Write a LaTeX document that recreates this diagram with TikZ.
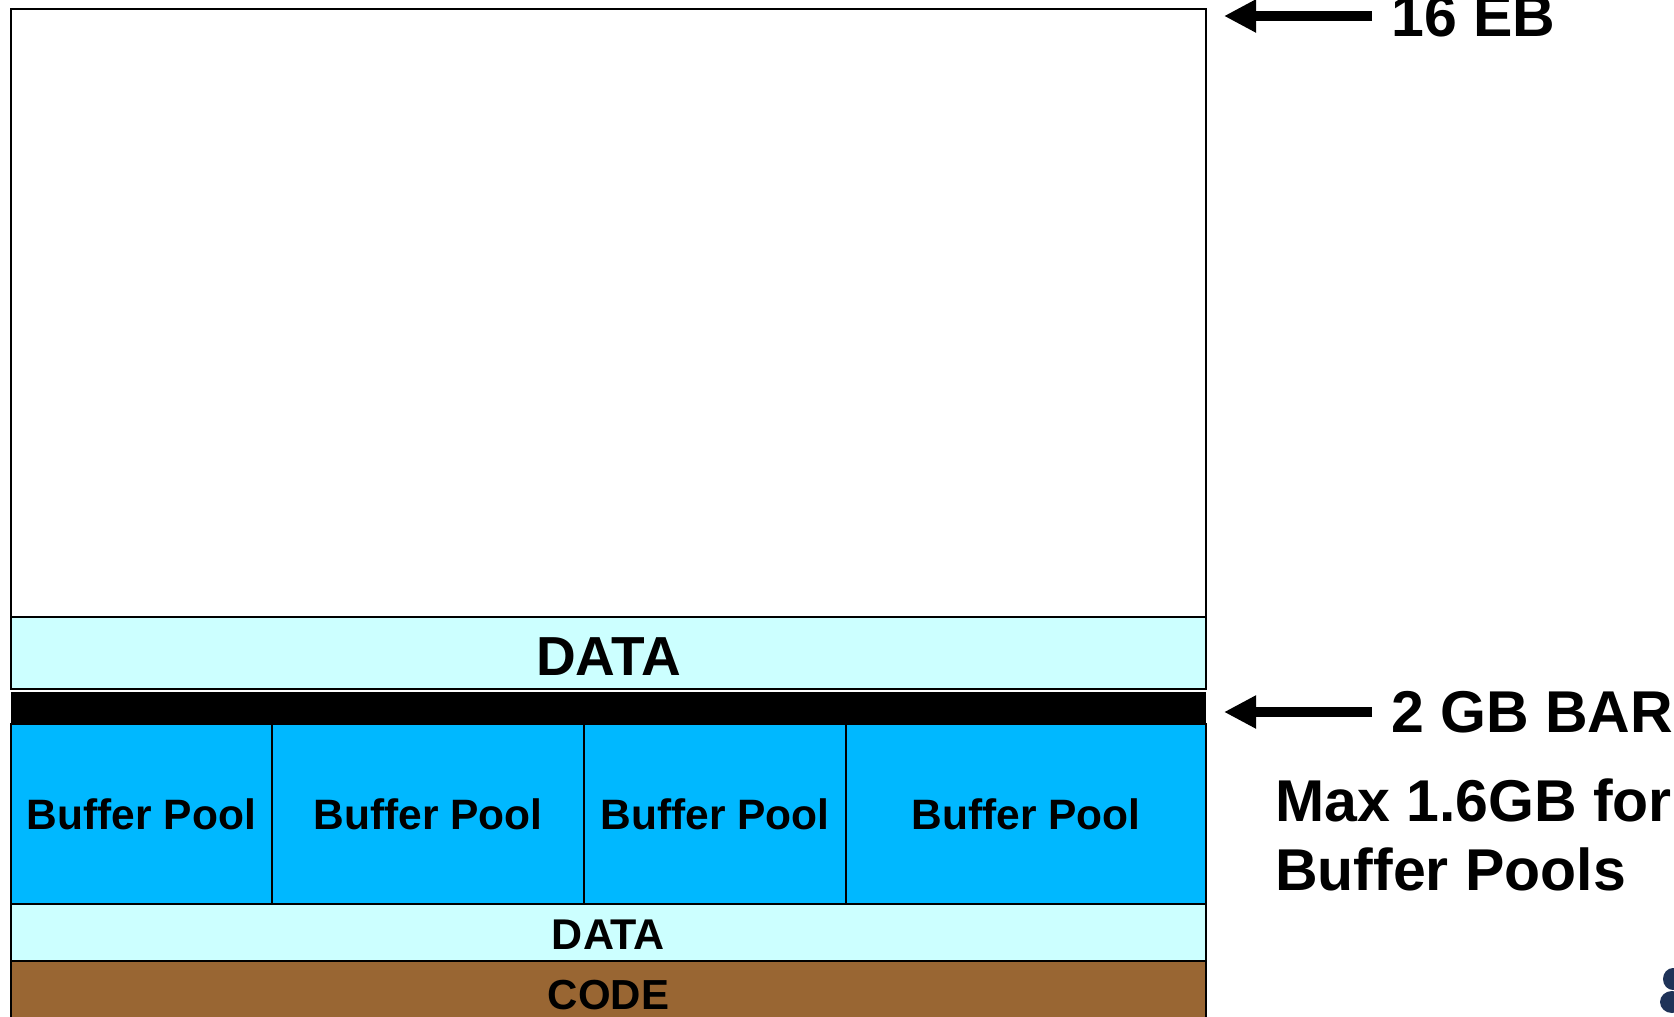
\documentclass[tikz,border=0pt]{standalone}
\usepackage{fontspec}
\setmainfont{Liberation Sans}
\usetikzlibrary{positioning,arrows.meta}

\definecolor{datacyan}{HTML}{CCFFFF}
\definecolor{poolblue}{HTML}{00B8FF}
\definecolor{codebrown}{HTML}{996633}
\definecolor{logonavy}{HTML}{1F3358}

\begin{document}
\begin{tikzpicture}[x=1pt,y=-1pt,
                    region/.style={draw=black,line width=2pt,inner sep=0pt,outer sep=0pt,
                                   minimum width=1195pt,anchor=north west},
                    pool/.style={region,fill=poolblue,minimum height=180pt,
                                 font=\fontsize{42.5}{50}\selectfont\bfseries},
                    tag/.style={inner xsep=19pt,inner ysep=0pt,anchor=west,
                                font=\fontsize{59}{69}\selectfont\bfseries},
                    pointer/.style={-{Triangle[length=32pt,width=31pt]},line width=10pt}]

  \useasboundingbox (0,0) rectangle (1674,1017);

  % address space, top down
  \node[region,line width=1.5pt,minimum height=608pt] (space) at (11,9) {};
  \node[region,fill=datacyan,minimum height=72pt,
        font=\fontsize{55}{60}\selectfont\bfseries] (datahi) [below=0pt of space]
       {\raisebox{-4pt}[\height][0pt]{DATA}};
  \node[region,draw=none,fill=black,minimum height=32pt] (bar) [below=3pt of datahi] {};

  \node[pool,minimum width=261pt] (bp1) at (bar.south west) {Buffer Pool};
  \node[pool,minimum width=312pt] (bp2) [right=0pt of bp1] {Buffer Pool};
  \node[pool,minimum width=262pt] (bp3) [right=0pt of bp2] {Buffer Pool};
  \node[pool,minimum width=360pt] (bp4) [right=0pt of bp3] {Buffer Pool};

  \node[region,fill=datacyan,minimum height=57pt,
        font=\fontsize{43}{50}\selectfont\bfseries] (datalo) at (bp1.south west)
       {\raisebox{-2pt}[\height][0pt]{DATA}};
  \node[region,fill=codebrown,minimum height=68pt,
        font=\fontsize{42}{50}\selectfont\bfseries] (code) [below=0pt of datalo] {CODE};

  % markers on the right
  \coordinate (ebtip)  at (1224,16);
  \coordinate (bartip) at (1224,712);
  \node[tag] (eb)     at (1372,16)  {16 EB};
  \node[tag] (gbbar)  at (1372,712) {2 GB BAR};
  \draw[pointer] (eb.west) -- (ebtip);
  \draw[pointer] (gbbar.west) -- (bartip);

  \node[tag,inner xsep=0pt,anchor=north west,align=left] (maxnote) at (1275,779)
       {Max 1.6GB for\\Buffer Pools};

  % cut-off logo at the corner
  \fill[logonavy] (1673,979) ellipse (10pt and 11pt);
  \fill[logonavy] (1672,1002) ellipse (12pt and 11pt);

\end{tikzpicture}
\end{document}
